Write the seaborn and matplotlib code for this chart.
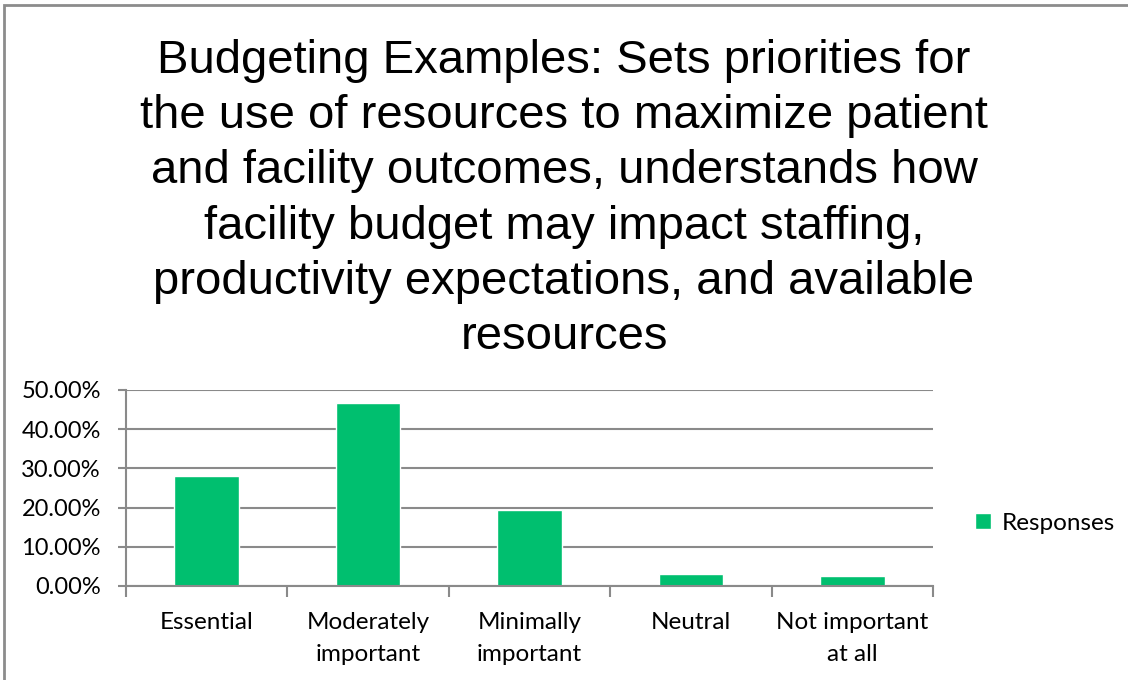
import matplotlib
matplotlib.use("Agg")
import matplotlib.pyplot as plt
import matplotlib.ticker as mticker
from matplotlib.patches import Rectangle
import seaborn as sns
import pandas as pd

categories = ["Essential", "Moderately\nimportant", "Minimally\nimportant",
              "Neutral", "Not important\nat all"]
responses = [0.281, 0.466, 0.195, 0.030, 0.025]
series_name = "Responses"
title = ("Budgeting Examples: Sets priorities for\n"
         "the use of resources to maximize patient\n"
         "and facility outcomes, understands how\n"
         "facility budget may impact staffing,\n"
         "productivity expectations, and available\n"
         "resources")

df = pd.DataFrame({"category": categories, "value": responses})

sns.set_style("white")
plt.rcParams["font.family"] = ["Lato", "DejaVu Sans"]

GREEN = "#00BF6F"
GRID = "#8A8A8A"

fig = plt.figure(figsize=(11.28, 6.8), dpi=100)
ax = fig.add_axes([126 / 1128, 1 - 586 / 680, (933 - 126) / 1128, (586 - 390) / 680])

sns.barplot(data=df, x="category", y="value", color=GREEN, width=0.4,
            saturation=1, ax=ax, label=series_name)

ax.set_ylim(0, 0.5)
ax.set_xlim(-0.5, len(categories) - 0.5)
ax.yaxis.set_major_locator(mticker.MultipleLocator(0.1))
ax.yaxis.set_major_formatter(mticker.FuncFormatter(lambda v, _: f"{v * 100:.2f}%"))
ax.grid(axis="y", color=GRID, linewidth=1.5)
ax.set_axisbelow(True)
ax.set_xlabel("")
ax.set_ylabel("")

for side in ("top", "right"):
    ax.spines[side].set_visible(False)
for side in ("left", "bottom"):
    ax.spines[side].set_color(GRID)
    ax.spines[side].set_linewidth(1.5)

ax.tick_params(axis="y", which="major", length=6, width=1.5, color=GRID,
               labelsize=17, labelcolor="black", pad=12, left=True)
ax.tick_params(axis="x", which="major", length=0, labelsize=17.5,
               labelcolor="black", pad=19)
ax.set_xticks(range(len(categories)))
ax.set_xticklabels(categories, linespacing=1.65)
ax.set_xticks([i - 0.5 for i in range(len(categories) + 1)], minor=True)
ax.tick_params(axis="x", which="minor", length=8, width=1.5, color=GRID,
               bottom=True)

leg = ax.legend(loc="center left", bbox_to_anchor=(1.052, 0.32), frameon=False,
                fontsize=17.5, handlelength=0.65, handleheight=0.65,
                handletextpad=0.45, borderaxespad=0, borderpad=0)
for t in leg.get_texts():
    t.set_color("black")

fig.text(0.5, 1 - 39 / 680, title, ha="center", va="top", fontsize=34,
         color="black", family=["Liberation Sans", "DejaVu Sans"],
         linespacing=1.33)

fig.patches.append(Rectangle((4 / 1128, -0.1), 1.2, 1 - 5 / 680 + 0.1,
                             transform=fig.transFigure, fill=False,
                             edgecolor="#8C8C8C", linewidth=2))

fig.savefig("out.png", dpi=100)
